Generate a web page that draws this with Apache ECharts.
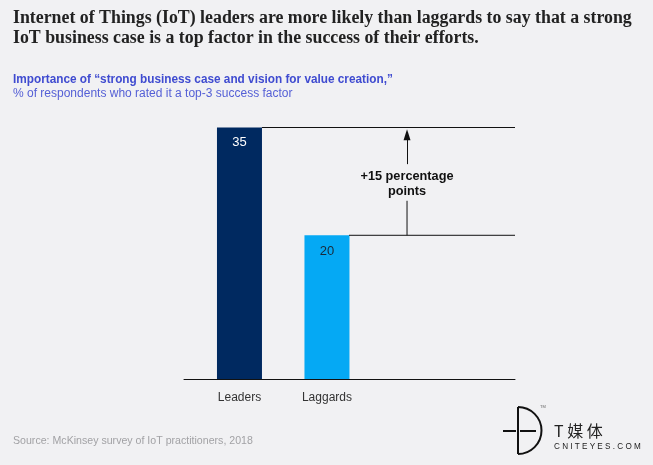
<!DOCTYPE html>
<html>
<head>
<meta charset="utf-8">
<style>
html,body{margin:0;padding:0;background:#f1f1f3;}
#main{width:653px;height:465px;}
</style>
<script src="https://cdn.jsdelivr.net/npm/echarts@6/dist/echarts.min.js"></script>
</head>
<body>
<div id="main"></div>
<script>
//数据
let categories = ['Leaders', 'Laggards']
let values = [35, 20]
let barColors = ['#002960', '#05a9f4']
let labelColors = ['#ffffff', '#1a2a3a']
let labelGaps = [8, 10]
let titleLines = [
    'Internet of Things (IoT) leaders are more likely than laggards to say that a strong',
    'IoT business case is a top factor in the success of their efforts.'
]
let subTitle = 'Importance of “strong business case and vision for value creation,”'
let subNote = '% of respondents who rated it a top-3 success factor'
let gapLabel = '+15 percentage\npoints'
let source = 'Source: McKinsey survey of IoT practitioners, 2018'

//x轴范围，柱子在 1、2 的位置
let xMin = 0.366
let xMax = 4.149
let arrowX = 2.915
let barEnds = [1.257, 2.252]
let serif = '"Liberation Serif", serif'
let sans = '"Liberation Sans", Arial, sans-serif'

let myChart = echarts.init(document.getElementById('main'))

let option = {
    backgroundColor: '#f1f1f3',
    animation: false,
    grid: {left: 184, top: 127.5, width: 331, height: 251.5},
    xAxis: {
        type: 'value',
        min: xMin,
        max: xMax,
        splitLine: {show: false},
        axisLine: {onZero: false, lineStyle: {color: '#111', width: 1}},
        axisTick: {show: false},
        axisLabel: {
            customValues: [1, 2],
            margin: 13,
            fontFamily: sans,
            fontSize: 12,
            color: '#333',
            formatter: val => categories[Math.round(val) - 1]
        }
    },
    yAxis: {
        type: 'value',
        min: 0,
        max: 35,
        show: false
    },
    series: [
        {
            type: 'bar',
            barWidth: 45,
            silent: true,
            data: values.map((v, i) => ({
                value: [i + 1, v],
                itemStyle: {color: barColors[i]},
                label: {color: labelColors[i], distance: labelGaps[i]}
            })),
            label: {
                show: true,
                position: 'insideTop',
                fontFamily: sans,
                fontSize: 13,
                formatter: p => p.value[1]
            }
        },
        //参考线
        ...values.map((v, i) => ({
            type: 'line',
            silent: true,
            symbol: 'none',
            lineStyle: {color: '#111', width: 1},
            data: [[barEnds[i], v], [xMax, v]]
        })),
        //箭头
        {
            type: 'line',
            silent: true,
            symbol: 'none',
            lineStyle: {color: '#111', width: 1},
            data: [[arrowX, values[1]], [arrowX, 24.8]],
            markLine: {
                silent: true,
                animation: false,
                symbol: ['none', 'triangle'],
                symbolSize: [7, 11],
                label: {show: false},
                lineStyle: {color: '#111', width: 1, type: 'solid'},
                data: [[{coord: [arrowX, 29.9]}, {coord: [arrowX, 34]}]]
            }
        }
    ],
    graphic: [
        {type: 'text', x: 13, y: 9, scaleX: 0.99, style: {text: titleLines[0], font: 'bold 18px ' + serif, fill: '#222'}},
        {type: 'text', x: 13, y: 29, scaleX: 0.99, style: {text: titleLines[1], font: 'bold 18px ' + serif, fill: '#222'}},
        {type: 'text', x: 13, y: 74, scaleX: 0.982, style: {text: subTitle, font: 'bold 12px ' + sans, fill: '#3f4bd0'}},
        {type: 'text', x: 13, y: 88, style: {text: subNote, font: '12px ' + sans, fill: '#5560d6'}},
        {type: 'text', x: 407, y: 168.5, scaleX: 0.98, style: {text: gapLabel, font: 'bold 13px ' + sans, fill: '#111', align: 'center', lineHeight: 15}},
        {type: 'text', x: 13, y: 435, scaleX: 0.964, style: {text: source, font: '11px ' + sans, fill: '#a2a2a5'}},
        //logo
        {type: 'line', shape: {x1: 518, y1: 407, x2: 518, y2: 454}, style: {stroke: '#111', lineWidth: 2}},
        {type: 'arc', shape: {cx: 518, cy: 430.5, r: 23.5, startAngle: -Math.PI / 2, endAngle: Math.PI / 2}, style: {stroke: '#111', lineWidth: 2, fill: null}},
        {type: 'line', shape: {x1: 503, y1: 431, x2: 516, y2: 431}, style: {stroke: '#111', lineWidth: 2}},
        {type: 'line', shape: {x1: 520, y1: 431, x2: 536, y2: 431}, style: {stroke: '#111', lineWidth: 2}},
        {type: 'text', x: 540, y: 405, style: {text: 'TM', font: '4px ' + sans, fill: '#666'}},
        {type: 'text', x: 554, y: 423, style: {text: 'T 媒 体', font: '16px "Noto Sans CJK SC"', fill: '#222'}},
        {type: 'text', x: 554, y: 442.5, scaleX: 0.98, style: {text: 'C N I T E Y E S . C O M', font: '8.3px ' + sans, fill: '#222'}}
    ]
}
myChart.setOption(option)
</script>
</body>
</html>
